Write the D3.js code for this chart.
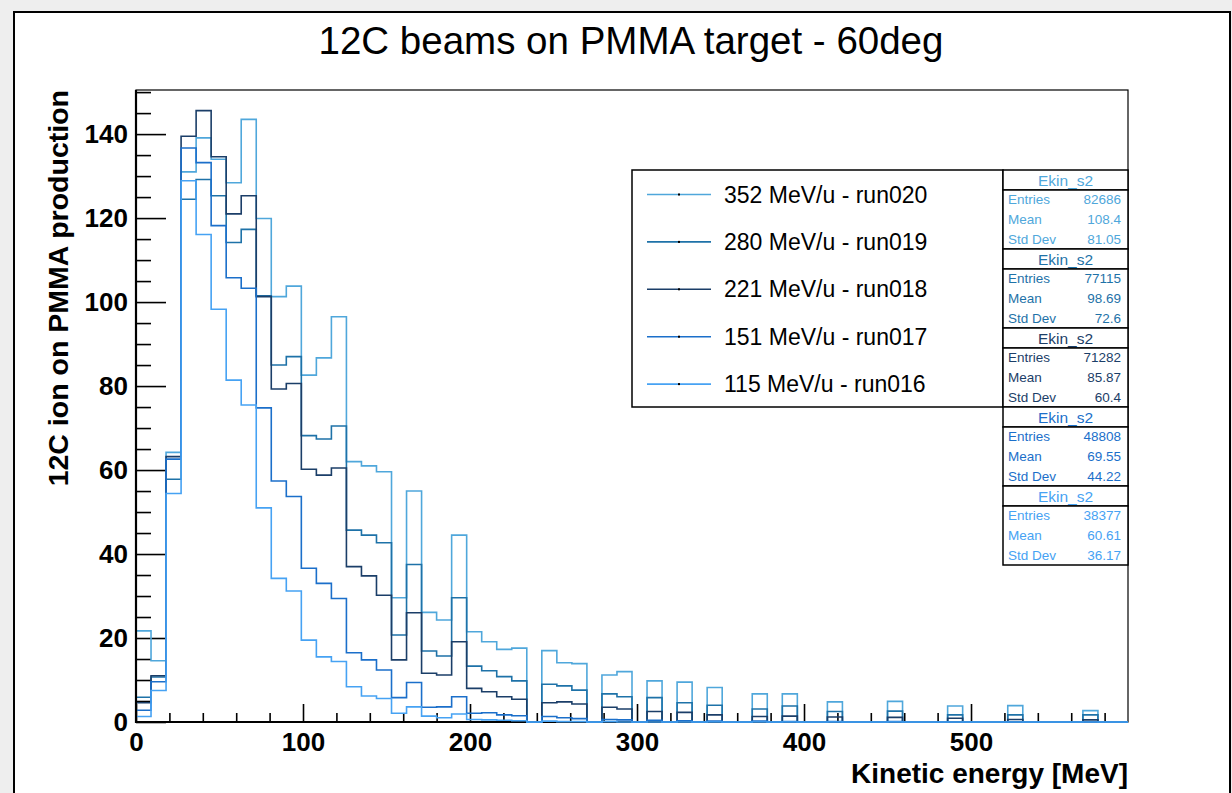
<!DOCTYPE html>
<html>
<head>
<meta charset="utf-8">
<script src="https://cdn.jsdelivr.net/npm/d3@7"></script>
<style>
    body { margin: 0; background: #eeeeee; }
    svg { display: block; font-family: 'Liberation Sans', Arial, sans-serif; }
</style>
</head>
<body>
<div id="chart-wrapper"></div>
<script>
(function (d3) {

    var BIN_WIDTH = 9,
        X_MAX = 594;

    // bin contents (9 MeV bins, 0..594 MeV)
    var run020 = [
        21.7, 14.6, 64.2, 131, 139.1, 134, 128.4, 143.5, 119.9, 101.3,
        103.8, 82.6, 86.7, 96.5, 62, 61, 59.6, 29.6, 55, 26.1,
        24.3, 44.5, 21.5, 19.1, 17.3, 17.6, 0, 17, 14.1, 13.9,
        0, 11.2, 12, 0, 9.8, 0, 9.5, 0, 8.2, 0,
        0, 6.7, 0, 6.7, 0, 0, 4.8, 0, 0, 0,
        4.9, 0, 0, 0, 3.8, 0, 0, 0, 3.9, 0,
        0, 0, 0, 2.7, 0, 0
    ];
    var run019 = [
        5.9, 10.7, 57.8, 124.5, 129.2, 125.3, 114.2, 117.3, 101.5, 85,
        87, 68.2, 67.4, 70.5, 45.7, 44.5, 42.7, 20.7, 37.5, 16.9,
        15.7, 29.6, 13.3, 12.2, 10.8, 9.8, 0, 9, 8.6, 7.6,
        0, 6.7, 6.0, 0, 5.8, 0, 4.6, 0, 4.0, 0,
        0, 3.1, 0, 3.8, 0, 0, 2.5, 0, 0, 0,
        2.6, 0, 0, 0, 1.7, 0, 0, 0, 1.7, 0,
        0, 0, 0, 1.7, 0, 0
    ];
    var run018 = [
        4.6, 11, 63.2, 139.5, 145.6, 134.6, 121, 125.3, 101.3, 79.3,
        80.6, 60.2, 58.8, 60.5, 37, 34.8, 30.2, 14.8, 26, 11.6,
        11.2, 19.1, 8.0, 7.2, 6.0, 5.4, 0, 4.6, 4.8, 4.3,
        0, 3.5, 3.1, 0, 2.5, 0, 2.3, 0, 1.7, 0,
        0, 1.3, 0, 1.4, 0, 0, 1.2, 0, 0, 0,
        1.1, 0, 0, 0, 0.9, 0, 0, 0, 0.6, 0,
        0, 0, 0, 0.5, 0, 0
    ];
    var run017 = [
        2.8, 9.6, 62.6, 136.7, 133.2, 118.2, 105.8, 103.3, 74.8, 57.4,
        53.7, 36.6, 33, 29.4, 16.5, 14.8, 12.4, 5.8, 9.4, 3.5,
        3.6, 6.0, 2.1, 2.2, 1.7, 1.5, 0, 1.3, 1.0, 0.8,
        0, 0.6, 0.5, 0, 0.4, 0, 0.3, 0, 0.2, 0,
        0, 0.2, 0, 0.1, 0, 0, 0.1, 0, 0, 0,
        0.1, 0, 0, 0, 0, 0, 0, 0, 0, 0,
        0, 0, 0, 0, 0, 0
    ];
    var run016 = [
        1.3, 7.5, 54.4, 128.9, 116.1, 98.3, 81.4, 75.5, 51, 34.2,
        31.2, 19.5, 15.5, 14.4, 8.4, 6.2, 5.6, 2.1, 3.6, 1.4,
        1.0, 1.9, 0.6, 0.5, 0.4, 0.3, 0, 0.2, 0.1, 0.1,
        0, 0.1, 0, 0, 0, 0, 0, 0, 0, 0,
        0, 0, 0, 0, 0, 0, 0, 0, 0, 0,
        0, 0, 0, 0, 0, 0, 0, 0, 0, 0,
        0, 0, 0, 0, 0, 0
    ];

    var seriesCounts = [run020, run019, run018, run017, run016];
    var seriesLabels = ['352 MeV/u - run020', '280 MeV/u - run019', '221 MeV/u - run018',
                        '151 MeV/u - run017', '115 MeV/u - run016'];
    var seriesColors = ['#4fa7db', '#1e72a8', '#1b3e68', '#1b6fca', '#46a2f3'];

    var statsName = 'Ekin_s2';
    var statsEntries = ['82686', '77115', '71282', '48808', '38377'];
    var statsMeans = ['108.4', '98.69', '85.87', '69.55', '60.61'];
    var statsStdDevs = ['81.05', '72.6', '60.4', '44.22', '36.17'];

    var yMajorTicks = [0, 20, 40, 60, 80, 100, 120, 140];
    var xMajorTicks = [0, 100, 200, 300, 400, 500];

    var chartTitle = '12C beams on PMMA target - 60deg',
        xTitle = 'Kinetic energy [MeV]',
        yTitle = '12C ion on PMMA production';

    var width = 1232,
        height = 793;

    var left = 136, right = 1128, top = 90, bottom = 722;

    var xScale = d3.scaleLinear().domain([0, X_MAX]).range([left, right]);
    var yScale = d3.scaleLinear().domain([0, 150.5]).range([bottom, top]);

    var svg = d3.select('#chart-wrapper')
        .append('svg')
        .attr('width', width)
        .attr('height', height);

    svg.append('rect')
        .attr('width', width)
        .attr('height', height)
        .attr('fill', '#eeeeee');

    // canvas
    svg.append('rect')
        .attr('x', 14)
        .attr('y', 12)
        .attr('width', 1216)
        .attr('height', 800)
        .attr('fill', '#ffffff')
        .attr('stroke', '#000')
        .attr('stroke-width', 2);

    svg.append('text')
        .attr('x', 631)
        .attr('y', 54)
        .attr('text-anchor', 'middle')
        .attr('font-size', 38.5)
        .attr('fill', '#000')
        .text(chartTitle);

    // frame
    svg.append('rect')
        .attr('x', left)
        .attr('y', top)
        .attr('width', right - left)
        .attr('height', bottom - top)
        .attr('fill', 'none')
        .attr('stroke', '#000')
        .attr('stroke-width', 1.2);

    // axes
    var yMinorTicks = d3.range(0, 151, 5).filter(function (v) { return v % 20 !== 0; });
    var xMinorTicks = d3.range(0, X_MAX, 20).filter(function (v) { return v % 100 !== 0; });

    var yAxis = d3.axisLeft(yScale)
        .tickValues(yMajorTicks)
        .tickSizeInner(-30)
        .tickSizeOuter(0)
        .tickPadding(8);

    var yAxisMinor = d3.axisLeft(yScale)
        .tickValues(yMinorTicks)
        .tickSizeInner(-15)
        .tickSizeOuter(0)
        .tickFormat('');

    var xAxis = d3.axisBottom(xScale)
        .tickValues(xMajorTicks)
        .tickSizeInner(-18)
        .tickSizeOuter(0)
        .tickPadding(11);

    var xAxisMinor = d3.axisBottom(xScale)
        .tickValues(xMinorTicks)
        .tickSizeInner(-9)
        .tickSizeOuter(0)
        .tickFormat('');

    svg.append('g')
        .attr('class', 'y axis')
        .attr('transform', 'translate(' + left + ',0)')
        .call(yAxisMinor);

    svg.append('g')
        .attr('class', 'y axis')
        .attr('transform', 'translate(' + left + ',0)')
        .call(yAxis);

    svg.append('g')
        .attr('class', 'x axis')
        .attr('transform', 'translate(0,' + bottom + ')')
        .call(xAxisMinor);

    svg.append('g')
        .attr('class', 'x axis')
        .attr('transform', 'translate(0,' + bottom + ')')
        .call(xAxis);

    svg.selectAll('.axis .domain').remove();
    svg.selectAll('.axis line')
        .attr('stroke', '#000')
        .attr('stroke-width', 1.6);
    svg.selectAll('.axis text')
        .attr('fill', '#000')
        .attr('font-size', 26)
        .attr('font-weight', 'bold')
        .attr('font-family', "'Liberation Sans', Arial, sans-serif");

    svg.append('line')
        .attr('x1', left - 1).attr('x2', right)
        .attr('y1', bottom).attr('y2', bottom)
        .attr('stroke', '#000')
        .attr('stroke-width', 2.2);

    // histograms
    var getSvgPathData = d3.line()
        .x(function (item) { return xScale(item.x); })
        .y(function (item) { return yScale(item.y); })
        .curve(d3.curveStepAfter);

    var hists = svg.append('g');

    seriesCounts.forEach(function (counts, index) {
        var points = [{ x: 0, y: 0 }];
        counts.forEach(function (c, i) {
            points.push({ x: i * BIN_WIDTH, y: c });
        });
        points.push({ x: X_MAX, y: 0 });

        hists.append('path')
            .attr('d', getSvgPathData(points))
            .attr('fill', 'none')
            .attr('stroke', seriesColors[index])
            .attr('stroke-width', 1.6);
    });

    svg.append('line')
        .attr('x1', left).attr('x2', left)
        .attr('y1', top).attr('y2', bottom + 1)
        .attr('stroke', '#000')
        .attr('stroke-width', 2.2);

    svg.append('text')
        .attr('x', right)
        .attr('y', 783)
        .attr('text-anchor', 'end')
        .attr('font-size', 28)
        .attr('font-weight', 'bold')
        .text(xTitle);

    svg.append('text')
        .attr('transform', 'translate(68,' + top + ') rotate(-90)')
        .attr('text-anchor', 'end')
        .attr('font-size', 28.5)
        .attr('font-weight', 'bold')
        .text(yTitle);

    // legend
    var legend = svg.append('g');

    legend.append('rect')
        .attr('x', 632)
        .attr('y', 170)
        .attr('width', 371)
        .attr('height', 237)
        .attr('fill', '#fff')
        .attr('stroke', '#000')
        .attr('stroke-width', 1.5);

    seriesLabels.forEach(function (label, index) {
        var ly = 194.5 + index * 47.4;

        legend.append('line')
            .attr('x1', 647).attr('x2', 711)
            .attr('y1', ly).attr('y2', ly)
            .attr('stroke', seriesColors[index])
            .attr('stroke-width', 1.6);

        legend.append('rect')
            .attr('x', 678)
            .attr('y', ly - 1)
            .attr('width', 2)
            .attr('height', 2)
            .attr('fill', '#000');

        legend.append('text')
            .attr('x', 724)
            .attr('y', ly + 8)
            .attr('font-size', 23)
            .attr('fill', '#000')
            .text(label);
    });

    // stats boxes
    var stats = svg.append('g');

    statsEntries.forEach(function (entries, index) {
        var y0 = 170 + index * 79;
        var color = seriesColors[index];

        stats.append('rect')
            .attr('x', 1003).attr('y', y0)
            .attr('width', 125).attr('height', 20)
            .attr('fill', '#fff')
            .attr('stroke', '#000')
            .attr('stroke-width', 1.5);

        stats.append('rect')
            .attr('x', 1003).attr('y', y0 + 20)
            .attr('width', 125).attr('height', 59)
            .attr('fill', '#fff')
            .attr('stroke', '#000')
            .attr('stroke-width', 1.5);

        stats.append('text')
            .attr('x', 1065.5)
            .attr('y', y0 + 16)
            .attr('text-anchor', 'middle')
            .attr('font-size', 15.5)
            .attr('fill', color)
            .text(statsName);

        var rows = [['Entries', entries], ['Mean', statsMeans[index]], ['Std Dev', statsStdDevs[index]]];

        rows.forEach(function (row, r) {
            var ry = y0 + 34 + r * 20;
            stats.append('text')
                .attr('x', 1008)
                .attr('y', ry)
                .attr('font-size', 13.5)
                .attr('fill', color)
                .text(row[0]);
            stats.append('text')
                .attr('x', 1121)
                .attr('y', ry)
                .attr('text-anchor', 'end')
                .attr('font-size', 13.5)
                .attr('fill', color)
                .text(row[1]);
        });
    });

})(d3);
</script>
</body>
</html>
